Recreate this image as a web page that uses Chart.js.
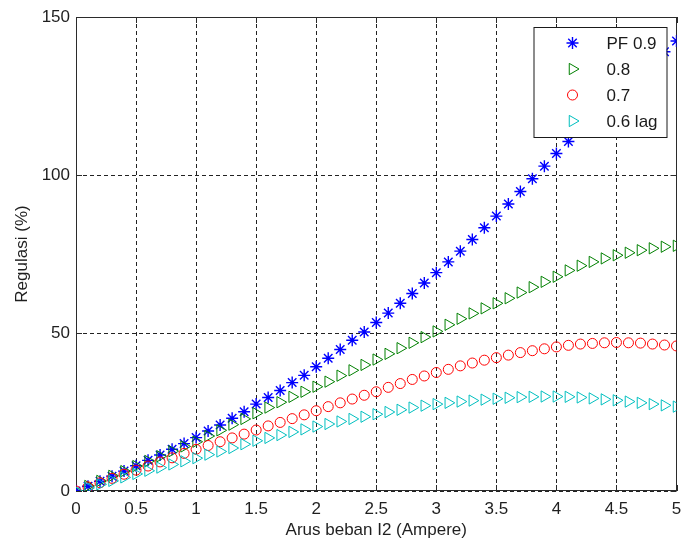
<!DOCTYPE html>
<html>
<head>
<meta charset="utf-8">
<script src="https://cdn.jsdelivr.net/npm/chart.js@4.4.0/dist/chart.umd.min.js"></script>
<style>
  html, body { margin: 0; padding: 0; background: #fff; }
</style>
</head>
<body>
<canvas id="chart" width="684" height="543"></canvas>
<script>
// arus beban (A)
const arus = [0, 0.1, 0.2, 0.3, 0.4, 0.5, 0.6, 0.7, 0.8, 0.9,
  1, 1.1, 1.2, 1.3, 1.4, 1.5, 1.6, 1.7, 1.8, 1.9,
  2, 2.1, 2.2, 2.3, 2.4, 2.5, 2.6, 2.7, 2.8, 2.9,
  3, 3.1, 3.2, 3.3, 3.4, 3.5, 3.6, 3.7, 3.8, 3.9,
  4, 4.1, 4.2, 4.3, 4.4, 4.5, 4.6, 4.7, 4.8, 4.9, 5];

// regulasi (%) per power factor
const pf09 = [0, 1.5, 3.1, 4.7, 6.3, 8.0, 9.7, 11.4, 13.2, 15.0,
  16.9, 19.0, 20.9, 23.0, 25.1, 27.5, 29.6, 31.8, 34.3, 36.6,
  39.3, 42.0, 44.8, 47.7, 50.3, 53.3, 56.3, 59.4, 62.5, 65.8,
  69.1, 72.5, 75.9, 79.6, 83.3, 87.0, 90.8, 94.8, 98.8, 102.8,
  106.8, 110.6, 114.2, 117.8, 121.4, 125.0, 128.5, 132.0, 135.5, 139.0, 142.4];
const pf08 = [0, 1.6, 3.2, 4.8, 6.3, 7.9, 9.5, 11.0, 12.6, 14.1,
  15.6, 17.4, 19.2, 21.0, 22.8, 24.6, 26.4, 28.1, 29.8, 31.4,
  33.0, 34.6, 36.5, 38.2, 39.9, 41.6, 43.4, 45.2, 46.9, 48.7,
  50.5, 52.6, 54.5, 56.2, 57.8, 59.4, 61.0, 62.8, 64.5, 66.2,
  67.8, 69.8, 71.3, 72.5, 73.6, 74.6, 75.4, 76.2, 76.8, 77.3, 77.6];
const pf07 = [0, 1.3, 2.6, 4.0, 5.3, 6.6, 7.9, 9.2, 10.5, 11.9,
  13.2, 14.4, 15.6, 16.8, 18.0, 19.3, 20.6, 21.7, 22.9, 24.1,
  25.4, 26.7, 27.9, 29.1, 30.3, 31.4, 32.8, 34.0, 35.3, 36.4,
  37.5, 38.5, 39.6, 40.5, 41.4, 42.2, 43.0, 43.8, 44.4, 45.0,
  45.6, 46.1, 46.5, 46.7, 46.9, 47.0, 46.9, 46.8, 46.5, 46.2, 45.9];
const pf06 = [0, 1.0, 2.1, 3.2, 4.3, 5.4, 6.4, 7.4, 8.4, 9.4,
  10.4, 11.5, 12.5, 13.6, 14.8, 15.9, 16.8, 17.7, 18.7, 19.5,
  20.4, 21.2, 22.0, 22.8, 23.5, 24.3, 25.0, 25.7, 26.4, 27.0,
  27.5, 27.9, 28.3, 28.6, 28.9, 29.2, 29.5, 29.7, 29.8, 29.9,
  29.9, 29.8, 29.6, 29.3, 29.0, 28.7, 28.3, 27.9, 27.5, 27.1, 26.7];

const seriesNames = ["PF 0.9", "0.8", "0.7", "0.6 lag"];
const xTicks = [0, 0.5, 1, 1.5, 2, 2.5, 3, 3.5, 4, 4.5, 5];
const yTicks = [0, 50, 100, 150];

const toPoints = ys => ys.map((y, i) => ({ x: arus[i], y: y }));

Chart.defaults.font.family = "'Liberation Sans', Arial, sans-serif";
Chart.defaults.font.size = 17;
Chart.defaults.color = "#1f1f1f";

// box around the axes + inward tick marks (matlab style)
const frame = {
  id: "frame",
  beforeDatasetsDraw(chart) {
    const { ctx, chartArea: a, scales } = chart;
    ctx.save();
    ctx.strokeStyle = "#2b2b2b";
    ctx.lineWidth = 1;
    ctx.beginPath();
    xTicks.forEach(v => {
      const px = Math.round(scales.x.getPixelForValue(v)) + 0.5;
      ctx.moveTo(px, a.bottom); ctx.lineTo(px, a.bottom - 6);
      ctx.moveTo(px, a.top); ctx.lineTo(px, a.top + 6);
    });
    yTicks.forEach(v => {
      const py = Math.round(scales.y.getPixelForValue(v)) + 0.5;
      ctx.moveTo(a.left, py); ctx.lineTo(a.left + 6, py);
      ctx.moveTo(a.right, py); ctx.lineTo(a.right - 6, py);
    });
    ctx.stroke();
    ctx.strokeRect(Math.round(a.left) + 0.5, Math.round(a.top) + 0.5,
      Math.round(a.right - a.left) - 1, Math.round(a.bottom - a.top) - 1);
    ctx.restore();
  }
};

// legend box drawn over the data, top right
const legendBox = {
  id: "legendBox",
  afterDraw(chart) {
    const { ctx, chartArea: a } = chart;
    const x0 = a.right - 143, y0 = a.top + 10, w = 133, h = 110;
    ctx.save();
    ctx.fillStyle = "#fff";
    ctx.fillRect(x0, y0, w, h);
    ctx.strokeStyle = "#1a1a1a";
    ctx.lineWidth = 1;
    ctx.strokeRect(x0 + 0.5, y0 + 0.5, w, h);
    chart.data.datasets.forEach((ds, i) => {
      const y = y0 + 16 + i * 26;
      ctx.strokeStyle = ds.borderColor;
      ctx.fillStyle = "rgba(0,0,0,0)";
      ctx.lineWidth = ds.pointBorderWidth;
      Chart.helpers.drawPoint(ctx, {
        pointStyle: ds.pointStyle,
        rotation: ds.pointRotation || 0,
        radius: ds.pointRadius,
        borderWidth: ds.pointBorderWidth
      }, x0 + 39, y);
      ctx.fillStyle = "#1a1a1a";
      ctx.font = "17px 'Liberation Sans', Arial, sans-serif";
      ctx.textBaseline = "middle";
      ctx.fillText(seriesNames[i], x0 + 73, y + 1);
    });
    ctx.restore();
  }
};

const mk = (label, ys, color, style, rot, r, bw, order) => ({
  label: label,
  data: toPoints(ys),
  showLine: false,
  borderColor: color,
  backgroundColor: "rgba(0,0,0,0)",
  pointStyle: style,
  pointRotation: rot,
  pointRadius: r,
  pointBorderWidth: bw,
  order: order
});

new Chart(document.getElementById("chart"), {
  type: "scatter",
  data: {
    datasets: [
      mk(seriesNames[0], pf09, "#0000ff", "star", 0, 6, 1.4, 3),
      mk(seriesNames[1], pf08, "#008000", "triangle", 90, 6.5, 1, 2),
      mk(seriesNames[2], pf07, "#ff0000", "circle", 0, 5, 1, 1),
      mk(seriesNames[3], pf06, "#00bfbf", "triangle", 90, 6.5, 1, 0)
    ]
  },
  options: {
    responsive: false,
    animation: false,
    devicePixelRatio: 1,
    layout: { padding: { left: 0, top: 17, right: 5, bottom: 0 } },
    plugins: {
      legend: { display: false },
      tooltip: { enabled: false }
    },
    scales: {
      x: {
        type: "linear",
        min: 0,
        max: 5,
        afterBuildTicks: s => { s.ticks = xTicks.map(v => ({ value: v })); },
        afterFit: s => { s.height = 52; s.paddingLeft = 0; s.paddingRight = 0; },
        ticks: { padding: 8, maxRotation: 0, autoSkip: false, callback: v => String(v) },
        grid: { color: "#222", drawTicks: false, lineWidth: 1 },
        border: { display: false, dash: [4, 3] },
        title: {
          display: true,
          text: "Arus beban I2 (Ampere)",
          padding: { top: 0, bottom: 2 }
        }
      },
      y: {
        type: "linear",
        min: 0,
        max: 150,
        afterBuildTicks: s => { s.ticks = yTicks.map(v => ({ value: v })); },
        afterFit: s => { s.width = 76; s.paddingTop = 0; s.paddingBottom = 0; },
        ticks: { padding: 6, callback: v => String(v) },
        grid: { color: "#222", drawTicks: false, lineWidth: 1 },
        border: { display: false, dash: [4, 3] },
        title: {
          display: true,
          text: "Regulasi (%)",
          padding: { top: 12, bottom: 0 }
        }
      }
    }
  },
  plugins: [frame, legendBox]
});
</script>
</body>
</html>
